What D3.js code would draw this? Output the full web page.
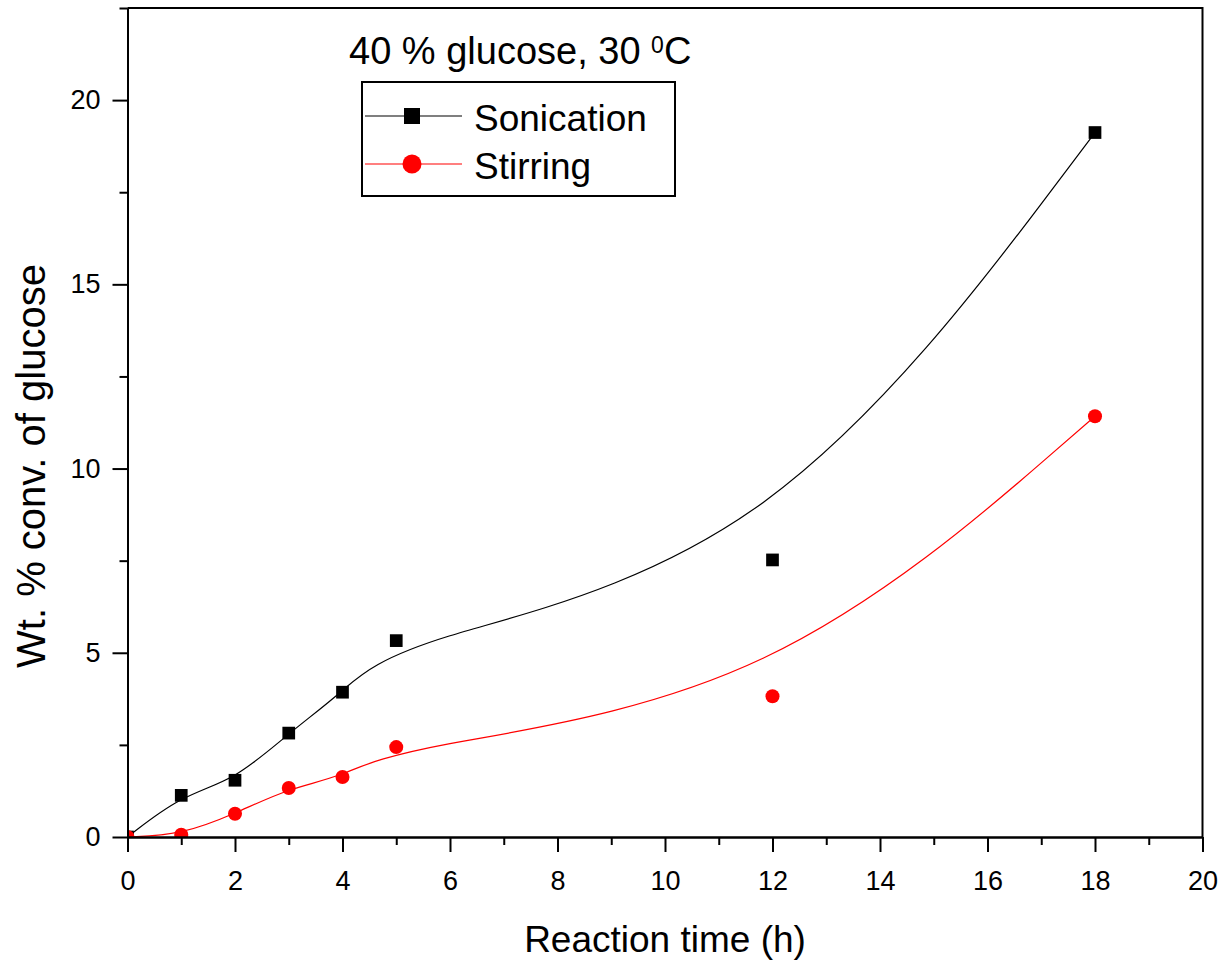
<!DOCTYPE html>
<html>
<head>
<meta charset="utf-8">
<script src="https://cdn.jsdelivr.net/npm/d3@7"></script>
<style>
  body { margin: 0; background: #fff; }
  text { font-family: "Liberation Sans", Arial, sans-serif; fill: #000; }
</style>
</head>
<body>
<div id="main"></div>
<script>
//data
const time = [0, 1, 2, 3, 4, 5, 12, 18];
const sonication = [0, 1.13, 1.54, 2.82, 3.93, 5.33, 7.52, 19.12];
const stirring = [0, 0.06, 0.63, 1.33, 1.63, 2.44, 3.82, 11.42];

const xMajor = [0, 2, 4, 6, 8, 10, 12, 14, 16, 18, 20];
const xMinor = [1, 3, 5, 7, 9, 11, 13, 15, 17, 19];
const yMajor = [0, 5, 10, 15, 20];
const yMinor = [2.5, 7.5, 12.5, 17.5, 22.5];

//constants
const W = 1224, H = 961;
const pLeft = 127.5, pRight = 1202.5, pTop = 8, pBottom = 837;

const svg = d3.select('#main')
  .append('svg')
  .attr('width', W)
  .attr('height', H);

//scales:
const x = d3.scaleLinear().domain([0, 20]).range([pLeft, pRight]);
const y = d3.scaleLinear().domain([0, 22.5]).range([pBottom, pTop]);

svg.append('clipPath')
  .attr('id', 'plot')
  .append('rect')
  .attr('x', pLeft).attr('y', pTop)
  .attr('width', pRight - pLeft).attr('height', pBottom - pTop);

const plot = svg.append('g').attr('clip-path', 'url(#plot)');

//the curves are B-splines through the measured points
const line = d3.line()
  .x(d => x(d[0]))
  .y(d => y(d[1]))
  .curve(d3.curveBasis);

plot.append('path')
  .datum(d3.zip(time, sonication))
  .attr('d', line)
  .attr('fill', 'none')
  .attr('stroke', '#000')
  .attr('stroke-width', 1.2);

plot.append('path')
  .datum(d3.zip(time, stirring))
  .attr('d', line)
  .attr('fill', 'none')
  .attr('stroke', '#ff0000')
  .attr('stroke-width', 1.2);

const sq = 12.7;
plot.selectAll('rect.son')
  .data(d3.zip(time, sonication))
  .enter()
  .append('rect')
  .attr('class', 'son')
  .attr('x', d => x(d[0]) - sq / 2)
  .attr('y', d => y(d[1]) - sq / 2)
  .attr('width', sq)
  .attr('height', sq)
  .attr('fill', '#000');

plot.selectAll('circle.stir')
  .data(d3.zip(time, stirring))
  .enter()
  .append('circle')
  .attr('class', 'stir')
  .attr('cx', d => x(d[0]))
  .attr('cy', d => y(d[1]))
  .attr('r', 7)
  .attr('fill', '#ff0000');

//axes:
function styleAxis(g) {
  g.select('.domain').attr('stroke-width', 2);
  g.selectAll('.tick line').attr('stroke-width', 2);
  g.selectAll('text').style('font-size', '27px').style('font-family', '"Liberation Sans", Arial, sans-serif');
}

svg.append('g')
  .attr('transform', `translate(0, ${pBottom})`)
  .call(d3.axisBottom(x).tickValues(xMinor).tickSize(8).tickSizeOuter(0).tickFormat(''))
  .call(styleAxis);

svg.append('g')
  .attr('transform', `translate(0, ${pBottom})`)
  .call(d3.axisBottom(x).tickValues(xMajor).tickSize(15).tickSizeOuter(0).tickPadding(19))
  .call(styleAxis);

svg.append('g')
  .attr('transform', `translate(${pLeft}, 0)`)
  .call(d3.axisLeft(y).tickValues(yMinor).tickSize(8).tickSizeOuter(0).tickFormat(''))
  .call(styleAxis);

svg.append('g')
  .attr('transform', `translate(${pLeft}, 0)`)
  .call(d3.axisLeft(y).tickValues(yMajor).tickSize(15).tickSizeOuter(0).tickPadding(12))
  .call(styleAxis);

//frame top and right
svg.append('path')
  .attr('d', `M${pLeft},${pTop}H${pRight}V${pBottom}`)
  .attr('fill', 'none')
  .attr('stroke', '#000')
  .attr('stroke-width', 2);

//axis titles
svg.append('text')
  .attr('x', (pLeft + pRight) / 2)
  .attr('y', 952)
  .attr('text-anchor', 'middle')
  .style('font-size', '37px')
  .text('Reaction time (h)');

svg.append('text')
  .attr('transform', 'translate(45, 466) rotate(-90)')
  .attr('text-anchor', 'middle')
  .style('font-size', '40px')
  .text('Wt. % conv. of glucose');

//title with superscript
const title = svg.append('text')
  .attr('x', 349)
  .attr('y', 64)
  .style('font-size', '38px')
  .style('white-space', 'pre');
title.append('tspan').text('40 % glucose, 30 ');
title.append('tspan').attr('dy', -11).style('font-size', '23px').text('0');
title.append('tspan').attr('dy', 11).text('C');

//legend
const legend = svg.append('g');
legend.append('rect')
  .attr('x', 362).attr('y', 82)
  .attr('width', 313).attr('height', 114)
  .attr('fill', '#fff')
  .attr('stroke', '#000')
  .attr('stroke-width', 2);

const items = [
  {name: 'Sonication', color: '#000', shape: 'square', cy: 116},
  {name: 'Stirring', color: '#ff0000', shape: 'circle', cy: 164}
];

items.forEach(d => {
  legend.append('line')
    .attr('x1', 365).attr('x2', 462)
    .attr('y1', d.cy).attr('y2', d.cy)
    .attr('stroke', d.color)
    .attr('stroke-width', 1.2);
  if (d.shape === 'square') {
    legend.append('rect')
      .attr('x', 412 - 8).attr('y', d.cy - 8)
      .attr('width', 16).attr('height', 16)
      .attr('fill', d.color);
  } else {
    legend.append('circle')
      .attr('cx', 412).attr('cy', d.cy)
      .attr('r', 9.5)
      .attr('fill', d.color);
  }
  legend.append('text')
    .attr('x', 474)
    .attr('y', d.cy + 14.5)
    .style('font-size', '37px')
    .text(d.name);
});
</script>
</body>
</html>
